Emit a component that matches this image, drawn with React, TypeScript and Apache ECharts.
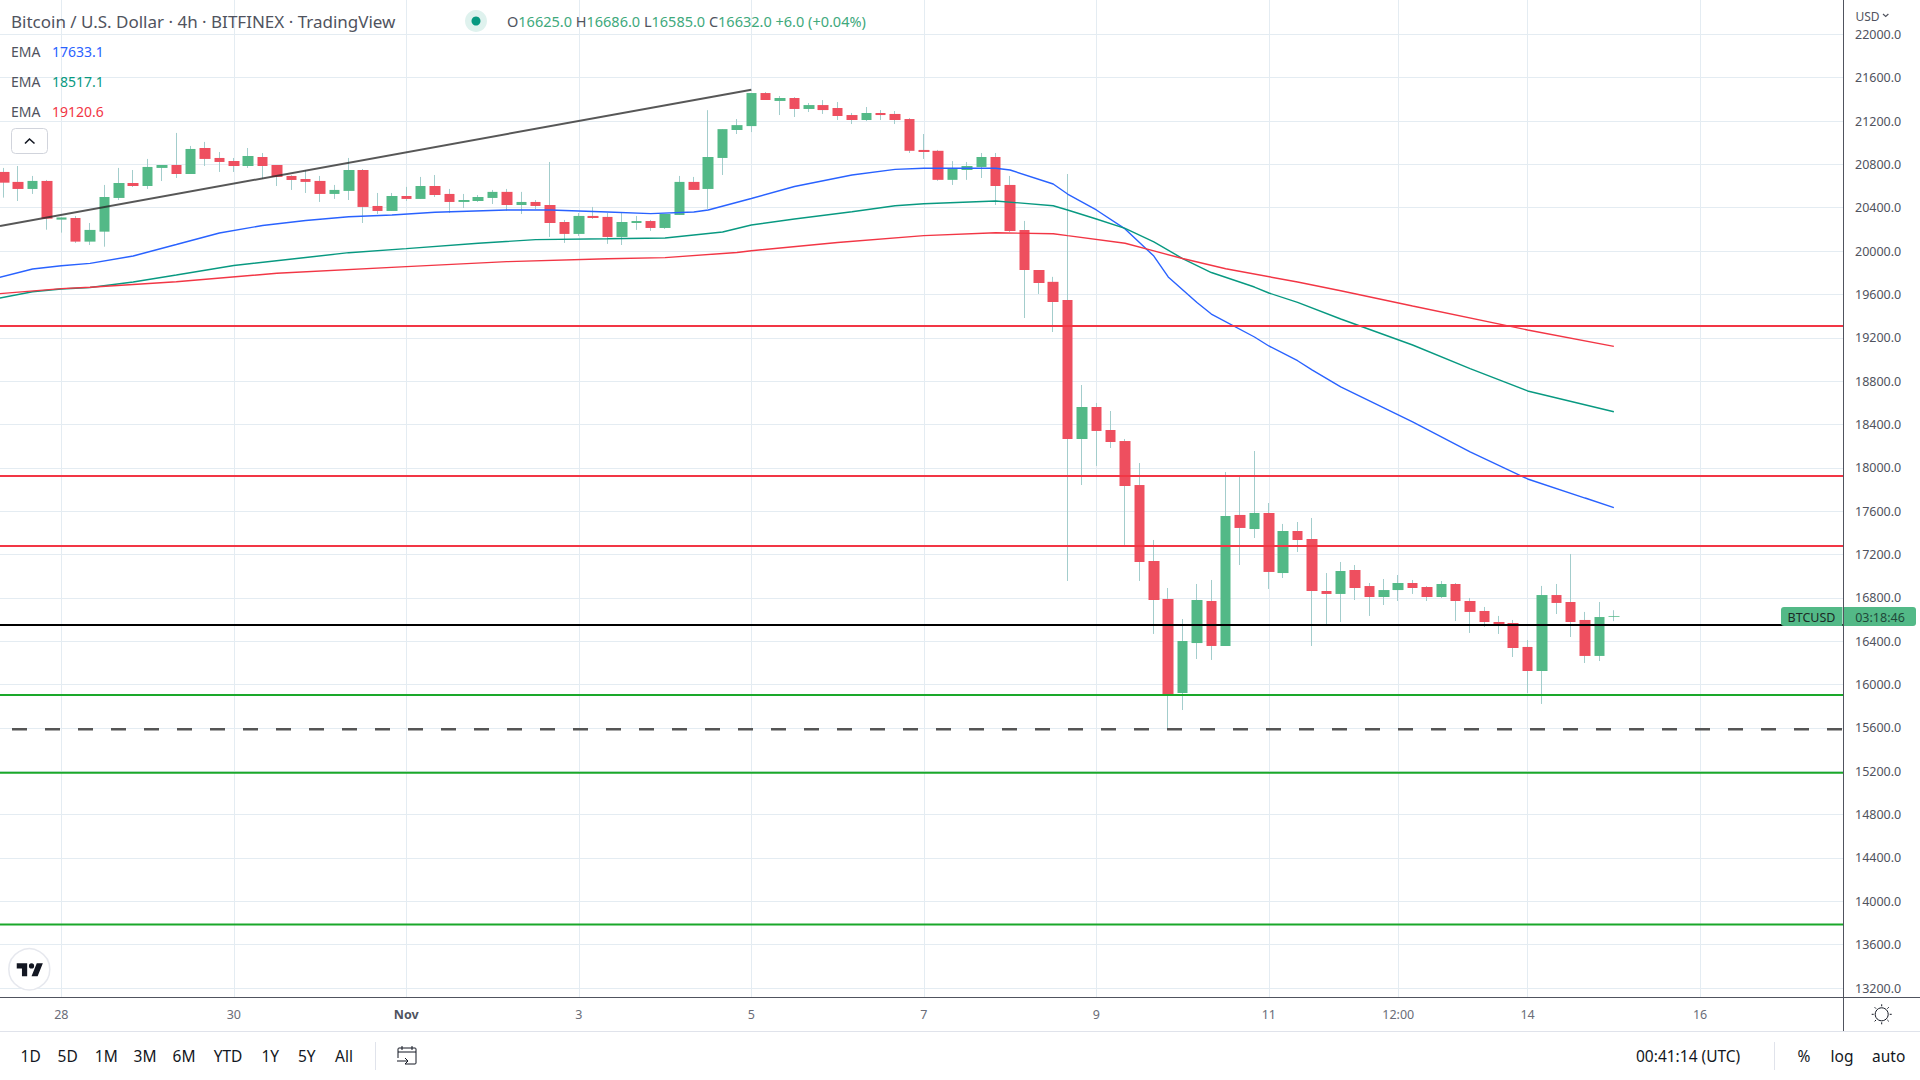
import React, { useEffect, useRef } from "react";
import * as echarts from "echarts";

const candleStartIndex = -4;
const opens = [20730,20638,20573,20647,20290,20305,20087,20179,20490,20628,20600,20767,20794,20711,20951,20859,20831,20785,20868,20794,20693,20665,20647,20527,20555,20748,20416,20370,20508,20481,20600,20527,20453,20462,20490,20546,20425,20453,20425,20268,20158,20324,20315,20130,20259,20277,20213,20333,20638,20573,20859,21117,21153,21458,21385,21412,21311,21347,21320,21255,21209,21274,21265,21218,20933,20925,20657,20748,20776,20868,20610,20194,19825,19716,19548,18266,18561,18349,18247,17841,17140,16790,15922,16383,16771,16356,17565,17435,17583,17029,17417,17343,16863,16836,17057,16909,16808,16872,16937,16900,16808,16928,16771,16679,16577,16568,16347,16125,16826,16762,16596,16264,16625];
const closes = [20631,20573,20647,20299,20310,20087,20195,20499,20628,20600,20776,20794,20711,20942,20850,20822,20785,20877,20785,20684,20656,20638,20527,20564,20748,20407,20370,20508,20481,20600,20517,20453,20471,20499,20546,20425,20453,20416,20259,20158,20324,20305,20130,20268,20277,20213,20342,20638,20564,20868,21125,21162,21458,21394,21412,21311,21347,21301,21246,21209,21274,21255,21209,20925,20914,20657,20757,20785,20868,20600,20185,19825,19705,19530,18266,18561,18340,18238,17832,17131,16780,15913,16402,16780,16356,17555,17445,17583,17039,17417,17334,16863,16836,17048,16891,16808,16872,16937,16891,16808,16928,16771,16670,16577,16559,16337,16125,16826,16753,16577,16264,16623,16632];
const lows = [20493,20462,20527,20197,20170,20075,20056,20040,20471,20591,20573,20646,20674,20711,20785,20730,20730,20767,20665,20600,20564,20536,20453,20481,20471,20259,20342,20370,20462,20481,20499,20351,20397,20453,20434,20370,20342,20388,20130,20075,20139,20296,20066,20056,20195,20186,20204,20333,20564,20390,20702,21080,21098,21394,21255,21237,21283,21265,21209,21172,21200,21209,21172,20905,20850,20648,20610,20657,20674,20425,20176,19382,19604,19253,16956,17841,18017,18183,17288,16956,16467,15599,15765,16236,16227,16356,17103,17352,16882,16983,17223,16356,16559,16577,16780,16633,16734,16771,16836,16771,16799,16587,16476,16531,16467,16254,15922,15821,16651,16439,16199,16217,16585];
const highs = [20767,20785,20693,20656,20310,20324,20259,20610,20767,20748,20850,20794,21090,20970,21007,20914,20859,20951,20905,20794,20700,20748,20693,20610,20859,20757,20536,20536,20592,20684,20702,20573,20527,20517,20564,20573,20546,20471,20822,20287,20351,20407,20351,20360,20324,20287,20342,20693,20684,21300,21125,21218,21458,21467,21430,21421,21366,21393,21375,21274,21329,21301,21292,21227,21080,20933,20830,20822,20905,20905,20693,20278,19825,19762,20711,18764,18598,18524,18266,18044,17334,16891,16605,16928,16965,17961,17924,18155,17675,17482,17500,17537,17029,17131,17103,16937,16974,17011,16965,16909,16955,16937,16799,16716,16633,16596,16411,16910,16928,17205,16670,16762,16686];

const ema1Index = [-5,-2,0,2,5,8,11,14,17,20,23,26,31,34,38,41,44,45,48,51,55,58,60,65,66,69,70,72,74,76,77,79,80,83,84,86,87,89,94,98,102,106,108];
const ema1Values = [19733,19834,19865,19886,19954,20060,20167,20236,20282,20317,20333,20358,20379,20379,20360,20345,20360,20379,20485,20596,20702,20754,20764,20764,20748,20619,20526,20379,20204,19954,19761,19525,19419,19207,19124,18988,18903,18746,18423,18146,17897,17721,17633.1];
const ema2Index = [-5,-2,0,2,5,8,12,17,20,24,29,33,38,42,44,46,48,51,55,58,60,65,69,70,72,74,76,78,80,83,84,86,89,94,98,102,108];
const ema2Values = [19548,19625,19650,19664,19714,19779,19867,19941,19985,20022,20072,20105,20113,20120,20148,20176,20240,20296,20363,20418,20437,20462,20418,20379,20296,20210,20084,19931,19802,19668,19613,19527,19373,19133,18915,18709,18517.1];
const ema3Index = [-5,0,2,8,15,24,31,38,42,47,48,54,60,65,69,70,74,76,78,81,86,89,94,102,108];
const ema3Values = [19599,19653,19666,19717,19795,19856,19902,19929,19939,19987,20003,20079,20142,20169,20160,20142,20072,20001,19931,19837,19714,19634,19493,19272,19120.6];

const levelNames = ["R3", "R2", "R1", "Pivot", "S1", "S2", "S3"];
const levelValues = [19308, 17924, 17279, 16549, 15904, 15187, 13786];
const levelColors = ["#f23645", "#f23645", "#f23645", "#000000", "#1aa82a", "#1aa82a", "#1aa82a"];
const lowLevel = 15587;
const trendIndex = [-4.264, 48];
const trendValues = [20231, 21489];

const noteTexts = ["R3", "R2", "R1", "Pivot", "S1", "Nov and 2022 Low", "S2", "S3"];
const noteIndex = [109.2, 109.2, 109.2, 109.2, 109.2, 104.2, 109.2, 109.2];
const noteValues = [19164, 17786, 17122, 16420, 15777, 15470, 14963, 13615];

const priceTicks = [22000,21600,21200,20800,20400,20000,19600,19200,18800,18400,18000,17600,17200,16800,16400,16000,15600,15200,14800,14400,14000,13600,13200];
const timeTickIndex = [0, 12, 24, 36, 48, 60, 72, 84, 93, 102, 114];
const timeTickLabels = ["28", "30", "Nov", "3", "5", "7", "9", "11", "12:00", "14", "16"];
const rangeButtons = ["1D", "5D", "1M", "3M", "6M", "YTD", "1Y", "5Y", "All"];
const rangeCentres = [30.7, 67.7, 106.3, 145, 184, 228, 270.3, 306.7, 344];

const FONT = '"Noto Sans", sans-serif';
const X_MIN = -4.264;
const X_MAX = 123.94;
const Y_MIN = 13117;
const Y_MAX = 22316.5;
const UP = "#53b987";
const DOWN = "#ee4f5f";

echarts.graphic.registerShape("tvLogo", echarts.graphic.extendPath("M14 6H2v6h6v9h6V6zm12 15h-7l6-15h7l-6 15zm-7-9a3 3 0 1 0 0-6 3 3 0 0 0 0 6z", {}));
echarts.graphic.registerShape("calIcon", echarts.graphic.extendPath("M398 1058v-9a1 1 0 0 1 1-1h16a1 1 0 0 1 1 1v14a1 1 0 0 1-1 1h-10M402 1046v4M412 1046v4M398 1052h18M397 1061h11M405 1058l3 3-3 3", {}));

function txt(text: string, x: number, y: number, fontSize: number, fill: string, align = "left", extra: any = {}) {
  return { type: "text", z: 100, x, y, style: { text, fontSize, fill, font: undefined, fontFamily: FONT, align, verticalAlign: "middle", ...extra } };
}
function ln(x1: number, y1: number, x2: number, y2: number, stroke: string, lineWidth = 1) {
  return { type: "line", z: 100, shape: { x1, y1, x2, y2 }, style: { stroke, lineWidth } };
}

function sunRays() {
  const cx = 1881.7, cy = 1014.3;
  const rays: any[] = [{ type: "circle", z: 100, shape: { cx, cy, r: 6.5 }, style: { fill: "#fff", stroke: "#131722", lineWidth: 1 } }];
  for (let k = 0; k < 8; k++) {
    const a = (k * Math.PI) / 4;
    rays.push(ln(cx + Math.cos(a) * 8, cy + Math.sin(a) * 8, cx + Math.cos(a) * 10, cy + Math.sin(a) * 10, "#131722"));
  }
  return rays;
}

function buildOption() {
  const idx = opens.map((_, k) => k + candleStartIndex);
  const wickData = idx.map((x, k) => [x, opens[k], opens[k], lows[k], highs[k]]);
  const bodyData = idx.map((x, k) => [x, opens[k], closes[k], Math.min(opens[k], closes[k]), Math.max(opens[k], closes[k])]);
  const lineSeries = (name: string, data: number[][], color: string, width: number, extra: any = {}) => ({
    name, type: "line", data, showSymbol: false, symbol: "none", smooth: false, silent: true, clip: true,
    lineStyle: { color, width, ...extra },
  });
  const ohlc = [
    "{g|O}{v|16625.0} ", "{g|H}{v|16686.0} ", "{g|L}{v|16585.0} ", "{g|C}{v|16632.0} ", "{v|+6.0 (+0.04%)}",
  ].join("");

  return {
    animation: false,
    backgroundColor: "#ffffff",
    textStyle: { fontFamily: FONT },
    grid: { left: 0, top: 0, width: 1843, height: 997, containLabel: false },
    xAxis: {
      type: "value", min: X_MIN, max: X_MAX, position: "bottom",
      axisLine: { show: false }, axisTick: { show: false, customValues: timeTickIndex },
      splitLine: { show: true, lineStyle: { color: "#e4ecf2", width: 1 } },
      axisLabel: {
        customValues: timeTickIndex, margin: 11, color: "#6a6d78", fontSize: 12.5, fontFamily: FONT, hideOverlap: false,
        formatter: (v: number) => {
          const s = timeTickLabels[timeTickIndex.indexOf(v)] ?? "";
          return s === "Nov" ? "{b|Nov}" : s;
        },
        rich: { b: { fontWeight: "bold", color: "#50535e", fontSize: 12.5, fontFamily: FONT } },
      },
    },
    yAxis: {
      type: "value", position: "right", min: Y_MIN, max: Y_MAX, scale: true,
      axisLine: { show: false }, axisTick: { show: false, customValues: priceTicks },
      splitLine: { show: true, lineStyle: { color: "#e4ecf2", width: 1 } },
      axisLabel: {
        customValues: priceTicks, margin: 12, fontSize: 12.5, fontFamily: FONT,
        color: (v: number) => (v === 22000 ? "#b4b6bd" : "#50535e"),
        formatter: (v: number) => v.toFixed(1),
      },
    },
    series: [
      { name: "Wicks", type: "candlestick", barWidth: 1, data: wickData, silent: true, clip: true,
        itemStyle: { color: "#a3cdcc", color0: "#f6a5af", borderColor: "#a3cdcc", borderColor0: "#f6a5af", borderColorDoji: "#a3cdcc", borderWidth: 1 } ,
        encode: { x: 0, y: [1, 2, 3, 4] },
      },
      { name: "Bodies", type: "candlestick", barWidth: 11, data: bodyData, silent: true, clip: true,
        itemStyle: { color: UP, color0: DOWN, borderColor: UP, borderColor0: DOWN, borderWidth: 0 },
        encode: { x: 0, y: [1, 2, 3, 4] },
      },
      lineSeries("EMA 1", ema1Index.map((x, k) => [x, ema1Values[k]]), "#2962ff", 1.4),
      lineSeries("EMA 2", ema2Index.map((x, k) => [x, ema2Values[k]]), "#089981", 1.4),
      lineSeries("EMA 3", ema3Index.map((x, k) => [x, ema3Values[k]]), "#f23645", 1.4),
      lineSeries("Trend", trendIndex.map((x, k) => [x, trendValues[k]]), "rgba(40,40,40,0.78)", 2),
      ...levelNames.map((name, k) => lineSeries(name, [[X_MIN, levelValues[k]], [X_MAX, levelValues[k]]], levelColors[k], 2)),
      lineSeries("Nov and 2022 Low", [[X_MIN, lowLevel], [X_MAX, lowLevel]], "#555555", 2.5, { type: [15, 18], dashOffset: 20.7 }),
      {
        name: "Notes", type: "scatter", symbolSize: 1, silent: true, itemStyle: { opacity: 0 },
        data: noteTexts.map((t, k) => ({ value: [noteIndex[k], noteValues[k]], name: t })),
        label: { show: true, position: "right", distance: 0, color: "#787b86", fontSize: 13.5, fontFamily: FONT, formatter: (p: any) => p.name },
      },
    ],
    graphic: [
      // frame
      ln(1843.5, 0, 1843.5, 1031, "#50535e"),
      ln(0, 997.5, 1920, 997.5, "#50535e"),
      ln(0, 1031.5, 1920, 1031.5, "#e0e3eb"),
      // header
      txt("Bitcoin / U.S. Dollar · 4h · BITFINEX · TradingView", 11, 21, 17, "#50535e"),
      { type: "circle", z: 100, shape: { cx: 476, cy: 21, r: 11 }, style: { fill: "#dff2ee" } },
      { type: "circle", z: 101, shape: { cx: 476, cy: 21, r: 4.5 }, style: { fill: "#089981" } },
      { type: "text", z: 100, x: 507, y: 21, style: { text: ohlc, verticalAlign: "middle", fontFamily: FONT, fontSize: 14.5,
        rich: { g: { fill: "#50535e", fontSize: 14.5, fontFamily: FONT }, v: { fill: "#40a97c", fontSize: 14.5, fontFamily: FONT } } } },
      txt("EMA", 11, 51, 14, "#50535e"),
      txt("17633.1", 52, 51, 14, "#2962ff"),
      txt("EMA", 11, 81, 14, "#50535e"),
      txt("18517.1", 52, 81, 14, "#089981"),
      txt("EMA", 11, 111, 14, "#50535e"),
      txt("19120.6", 52, 111, 14, "#f23645"),
      // collapse button
      { type: "rect", z: 100, shape: { x: 11.5, y: 128.5, width: 36, height: 25, r: 4 }, style: { fill: "#ffffff", stroke: "#d1d4dc", lineWidth: 1 } },
      { type: "polyline", z: 101, shape: { points: [[25, 143.5], [29.5, 139], [34.5, 143.5]] }, style: { stroke: "#131722", lineWidth: 1.6, fill: "none" } },
      // currency
      txt("USD", 1855.5, 16, 12, "#50535e"),
      { type: "polyline", z: 101, shape: { points: [[1883, 14], [1885.7, 16.5], [1888.4, 14]] }, style: { stroke: "#50535e", lineWidth: 1.2, fill: "none" } },
      // price tag
      { type: "rect", z: 100, shape: { x: 1781, y: 607, width: 61.5, height: 19, r: [3, 0, 0, 3] }, style: { fill: UP } },
      { type: "rect", z: 100, shape: { x: 1844, y: 607, width: 72, height: 19, r: [0, 3, 3, 0] }, style: { fill: UP } },
      txt("BTCUSD", 1811.5, 617, 12.5, "#1c2b26", "center"),
      txt("03:18:46", 1880, 617, 12.5, "#1f4a3a", "center"),
      // logo
      { type: "circle", z: 100, shape: { cx: 29.3, cy: 969.3, r: 20.5 }, style: { fill: "#ffffff", stroke: "#e6e8ee", lineWidth: 1.5 } },
      { type: "tvLogo", z: 101, x: 15, y: 958.1, scaleX: 0.87, scaleY: 0.87, style: { fill: "#131722" } },
      // bottom toolbar
      ...rangeButtons.map((b, k) => txt(b, rangeCentres[k], 1056, 15.5, "#131722", "center")),
      ln(375.5, 1042, 375.5, 1070, "#e0e3eb"),
      { type: "calIcon", z: 100, style: { stroke: "#131722", fill: "none", lineWidth: 1 } },
      txt("00:41:14 (UTC)", 1636, 1056, 15.5, "#131722"),
      ln(1774.5, 1042, 1774.5, 1070, "#e0e3eb"),
      txt("%", 1804, 1056, 15.5, "#131722", "center"),
      txt("log", 1842, 1056, 15.5, "#131722", "center"),
      txt("auto", 1888.7, 1056, 15.5, "#131722", "center"),
      ...sunRays(),
    ],
  };
}

export default function App() {
  const ref = useRef<HTMLDivElement>(null);
  useEffect(() => {
    document.body.style.margin = "0";
    const chart = echarts.init(ref.current!, undefined, { renderer: "svg" });
    chart.setOption(buildOption() as any);
    return () => chart.dispose();
  }, []);
  return <div ref={ref} style={{ width: 1920, height: 1080, background: "#fff" }} />;
}
